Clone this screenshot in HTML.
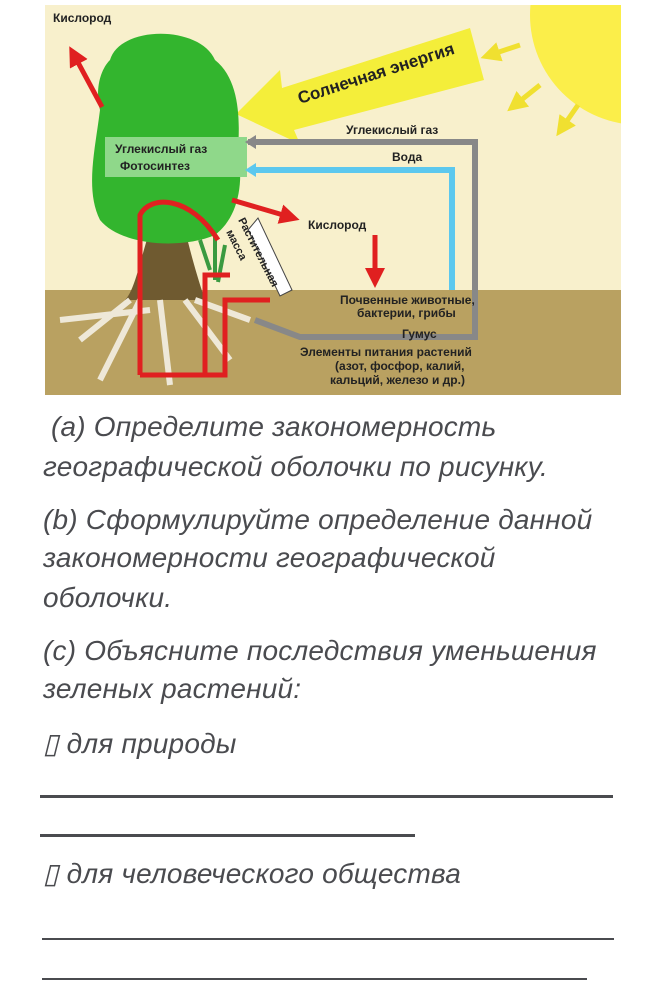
<!DOCTYPE html>
<html><head><meta charset="utf-8"><style>
body{margin:0;width:655px;height:999px;background:#fff;overflow:hidden;position:relative;font-family:"Liberation Sans",sans-serif}
.t{position:absolute;left:43px;font-style:italic;font-size:28px;letter-spacing:0.2px;color:#4a4b4f;line-height:33px;white-space:nowrap}
.l{position:absolute;height:3px;background:#4a4b4f}
</style></head><body>
<svg width="655" height="400" style="position:absolute;left:0;top:0" font-family="Liberation Sans, sans-serif" font-weight="bold">
<defs><clipPath id="c"><rect x="45" y="5" width="576" height="390"/></clipPath>
<marker id="ar" markerWidth="4" markerHeight="4" refX="2" refY="2" orient="auto"><path d="M0,0L4,2L0,4z" fill="#e02020"/></marker>
<marker id="ay" markerWidth="4" markerHeight="4" refX="2" refY="2" orient="auto"><path d="M0,0L4,2L0,4z" fill="#f0e030"/></marker>
</defs>
<g clip-path="url(#c)">
<rect x="45" y="5" width="576" height="390" fill="#f8f0cc"/>
<rect x="45" y="290" width="576" height="105" fill="#b9a161"/>
<circle cx="640" cy="15" r="110" fill="#fbee4a"/>
<line x1="520" y1="45" x2="490" y2="55" stroke="#f0e030" stroke-width="5" marker-end="url(#ay)"/>
<line x1="540" y1="85" x2="515" y2="105" stroke="#f0e030" stroke-width="5" marker-end="url(#ay)"/>
<line x1="578" y1="105" x2="562" y2="128" stroke="#f0e030" stroke-width="5" marker-end="url(#ay)"/>
<polygon points="236,114 280,70 282,88 470,28 484,80 294,130 300,144" fill="#f4ee3a"/>
<text x="0" y="0" font-size="17" fill="#222" transform="translate(300,104) rotate(-18)">Солнечная энергия</text>
<path d="M150,230 C140,260 135,290 125,300 L205,300 C195,270 190,250 185,230z" fill="#6f5a30"/>
<g stroke="#eee8d8" stroke-width="6" fill="none">
<path d="M130,300 L80,340 M140,300 L100,380 M160,300 L170,385 M185,300 L230,360 M195,300 L250,320 M150,310 L60,320"/></g>
<path d="M110,60 C120,25 200,25 215,60 C240,80 240,120 238,150 C245,190 235,220 215,235 C180,250 120,245 100,220 C85,190 95,150 100,110 C95,90 100,70 110,60z" fill="#33b52e"/>
<path d="M200,240 L210,270 M215,235 L215,280 M225,245 L218,282" stroke="#3a9a40" stroke-width="4"/>
<rect x="105" y="137" width="142" height="40" fill="#8fd88a"/>
<text x="115" y="153" font-size="12" fill="#222">Углекислый газ</text>
<text x="120" y="170" font-size="12" fill="#222">Фотосинтез</text>
<path d="M248,142 L475,142 L475,337 L300,337 L255,320" fill="none" stroke="#888" stroke-width="6"/>
<polygon points="245,142 256,135 256,149" fill="#888"/>
<path d="M256,170 L452,170 L452,290" fill="none" stroke="#5cc8ee" stroke-width="6"/>
<polygon points="245,170 256,163 256,177" fill="#5cc8ee"/>
<text x="346" y="134" font-size="12" fill="#222">Углекислый газ</text>
<text x="392" y="161" font-size="12" fill="#222">Вода</text>
<text x="53" y="22" font-size="12" fill="#222">Кислород</text>
<line x1="102" y1="107" x2="74" y2="55" stroke="#e02020" stroke-width="5" marker-end="url(#ar)"/>
<line x1="232" y1="200" x2="290" y2="217" stroke="#e02020" stroke-width="5" marker-end="url(#ar)"/>
<text x="308" y="229" font-size="12" fill="#222">Кислород</text>
<line x1="375" y1="235" x2="375" y2="278" stroke="#e02020" stroke-width="5" marker-end="url(#ar)"/>
<path d="M140,375 L140,215 C150,195 190,195 218,240" fill="none" stroke="#e02020" stroke-width="5"/>
<path d="M140,375 L225,375 L225,300 L270,300" fill="none" stroke="#e02020" stroke-width="5"/>
<path d="M205,375 L205,275 L230,275" fill="none" stroke="#e02020" stroke-width="5"/>
<polygon points="248,230 258,218 292,290 280,296" fill="#fff" stroke="#444" stroke-width="1"/>
<text font-size="11" fill="#222" transform="translate(238,220) rotate(63)">Растительная</text>
<text font-size="11" fill="#222" transform="translate(226,232) rotate(63)">масса</text>
<text x="340" y="304" font-size="12" fill="#222">Почвенные животные,</text>
<text x="357" y="317" font-size="12" fill="#222">бактерии, грибы</text>
<text x="402" y="338" font-size="12" fill="#222">Гумус</text>
<text x="300" y="356" font-size="12" fill="#222">Элементы питания растений</text>
<text x="335" y="370" font-size="12" fill="#222">(азот, фосфор, калий,</text>
<text x="330" y="384" font-size="12" fill="#222">кальций, железо и др.)</text>
</g></svg>
<div class="t" style="top:410px">&nbsp;(a) Определите закономерность</div>
<div class="t" style="top:450px">географической оболочки по рисунку.</div>
<div class="t" style="top:503px">(b) Сформулируйте определение данной</div>
<div class="t" style="top:541px">закономерности географической</div>
<div class="t" style="top:581px">оболочки.</div>
<div class="t" style="top:634px">(c) Объясните последствия уменьшения</div>
<div class="t" style="top:672px">зеленых растений:</div>
<div class="t" style="top:727px">▯ для природы</div>
<div class="l" style="left:40px;top:795px;width:573px"></div>
<div class="l" style="left:40px;top:834px;width:375px"></div>
<div class="t" style="top:857px">▯ для человеческого общества</div>
<div class="l" style="left:42px;top:938px;width:572px;height:2px"></div>
<div class="l" style="left:42px;top:978px;width:545px;height:2px"></div>
</body></html>
